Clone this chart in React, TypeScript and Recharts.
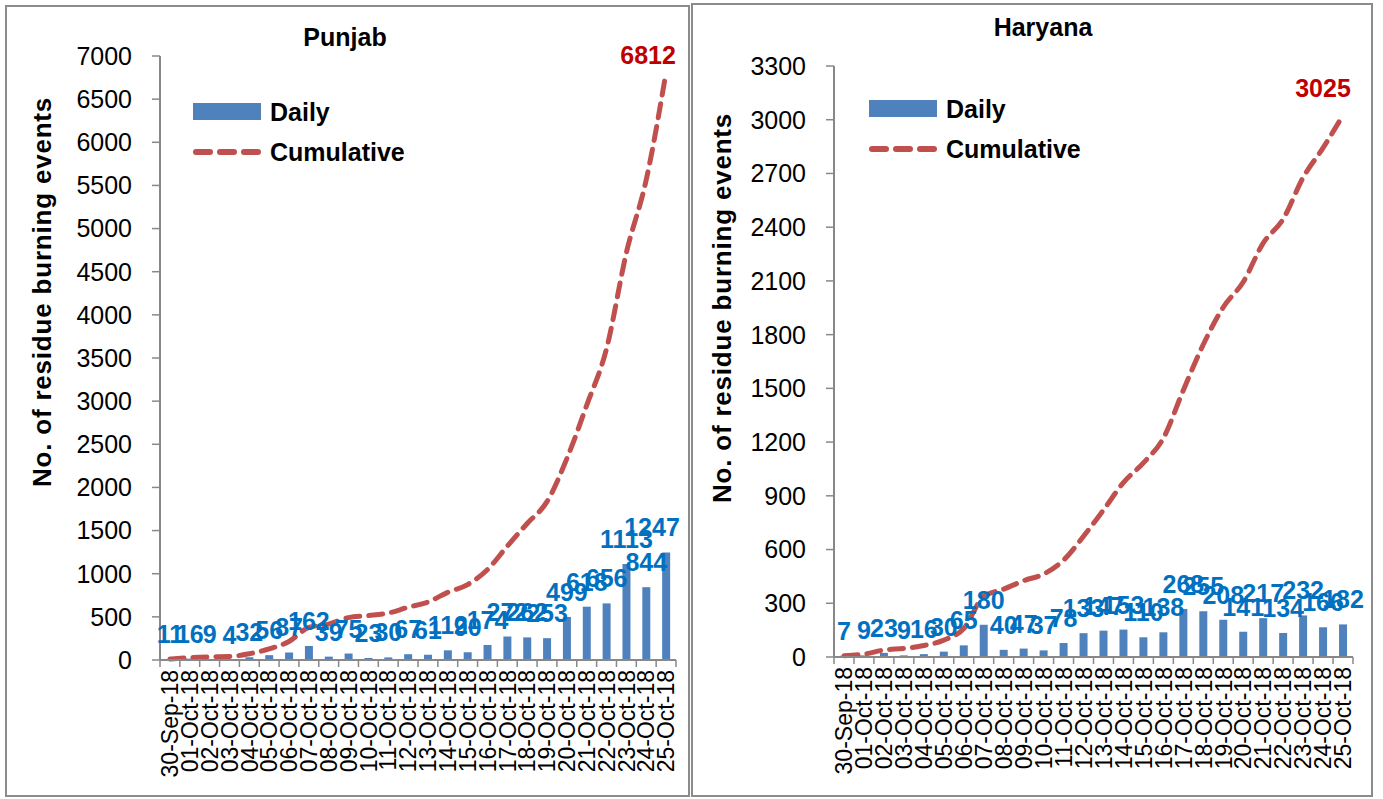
import { ComposedChart, Bar, Line, XAxis, YAxis, LabelList } from 'recharts'

const dates = [
  '30-Sep-18', '01-Oct-18', '02-Oct-18', '03-Oct-18', '04-Oct-18', '05-Oct-18', '06-Oct-18',
  '07-Oct-18', '08-Oct-18', '09-Oct-18', '10-Oct-18', '11-Oct-18', '12-Oct-18', '13-Oct-18',
  '14-Oct-18', '15-Oct-18', '16-Oct-18', '17-Oct-18', '18-Oct-18', '19-Oct-18', '20-Oct-18',
  '21-Oct-18', '22-Oct-18', '23-Oct-18', '24-Oct-18', '25-Oct-18',
]

const punjabDaily = [11, 16, 9, 4, 32, 56, 87, 162, 39, 75, 23, 30, 67, 61, 112, 90, 174, 272, 262, 253, 499, 618, 656, 1113, 844, 1247]
const punjabCumulative = [11, 27, 36, 40, 72, 128, 215, 377, 416, 491, 514, 544, 611, 672, 784, 874, 1048, 1320, 1582, 1835, 2334, 2952, 3608, 4721, 5565, 6812]

const haryanaDaily = [7, 9, 23, 9, 16, 30, 65, 180, 40, 47, 37, 78, 133, 147, 153, 110, 138, 268, 255, 208, 141, 217, 134, 232, 166, 182]
const haryanaCumulative = [7, 16, 39, 48, 64, 94, 159, 339, 379, 426, 463, 541, 674, 821, 974, 1084, 1222, 1490, 1745, 1953, 2094, 2311, 2445, 2677, 2843, 3025]

const punjabTicks = [0, 500, 1000, 1500, 2000, 2500, 3000, 3500, 4000, 4500, 5000, 5500, 6000, 6500, 7000]
const haryanaTicks = [0, 300, 600, 900, 1200, 1500, 1800, 2100, 2400, 2700, 3000, 3300]

const FONT = '"Liberation Sans", Arial, sans-serif'
const BAR = '#4F81BD'
const LINE = '#C0504D'
const LABEL_BLUE = '#0070C0'
const AXIS = '#888888'

function DateTick(props: any) {
  const { x, payload, index, band, axisY, last } = props
  const ty = axisY + 10
  return (
    <g>
      <line x1={x - band / 2} y1={axisY} x2={x - band / 2} y2={axisY + 7} stroke={AXIS} strokeWidth={1.5} />
      {index === last && (
        <line x1={x + band / 2} y1={axisY} x2={x + band / 2} y2={axisY + 7} stroke={AXIS} strokeWidth={1.5} />
      )}
      <text
        x={x}
        y={ty}
        transform={`rotate(-90, ${x}, ${ty})`}
        textAnchor="end"
        dy="0.36em"
        fontSize={23}
        fontFamily={FONT}
        fill="#000"
      >
        {payload.value}
      </text>
    </g>
  )
}

// value label above a bar, nudged left when it would run past the panel edge
function DailyLabel(props: any) {
  const { x, y, width, value, maxX } = props
  const cx = x + width / 2
  const half = (String(value).length * 14) / 2
  const shift = Math.min(0, maxX - (cx + half))
  return (
    <text
      x={cx + shift}
      y={y - 16}
      textAnchor="middle"
      fontSize={25}
      fontWeight="bold"
      fontFamily={FONT}
      fill={LABEL_BLUE}
    >
      {value}
    </text>
  )
}

function LegendBox() {
  return (
    <div style={{ fontFamily: FONT, fontWeight: 'bold', fontSize: 25, color: '#000' }}>
      <div style={{ display: 'flex', alignItems: 'center', height: 34 }}>
        <svg width={70} height={18}>
          <rect x={1} y={0} width={68} height={17} fill={BAR} />
        </svg>
        <span style={{ marginLeft: 8 }}>Daily</span>
      </div>
      <div style={{ display: 'flex', alignItems: 'center', height: 46 }}>
        <svg width={70} height={10}>
          <line x1={4} y1={5} x2={66} y2={5} stroke={LINE} strokeWidth={6} strokeDasharray="14 10" strokeLinecap="round" />
        </svg>
        <span style={{ marginLeft: 8 }}>Cumulative</span>
      </div>
    </div>
  )
}

interface PanelProps {
  title: string
  daily: number[]
  cumulative: number[]
  ticks: number[]
  left: number
  width: number
  top: number
  right: number
  xAxisHeight: number
  axisWidth: number
  titleX: number
  titleY: number
  legendX: number
  legendY: number
  yTitleX: number
  yTitleY: number
  endDx: number
  endDy: number
}

function Panel(p: PanelProps) {
  const height = 799
  const data = dates.map((d, i) => ({ date: d, daily: p.daily[i], cumulative: p.cumulative[i] }))
  const plotW = p.width - p.right - p.axisWidth
  const band = plotW / dates.length
  const axisY = height - p.xAxisHeight
  const last = dates.length - 1

  return (
    <div style={{ position: 'absolute', left: p.left, top: 0, width: p.width, height }}>
      <ComposedChart width={p.width} height={height} data={data} margin={{ top: p.top, right: p.right, bottom: 0, left: 0 }}>
        <XAxis
          dataKey="date"
          interval={0}
          height={p.xAxisHeight}
          axisLine={{ stroke: AXIS, strokeWidth: 2 }}
          tickLine={false}
          tick={<DateTick band={band} axisY={axisY} last={last} />}
        />
        <YAxis
          width={p.axisWidth}
          domain={[p.ticks[0], p.ticks[p.ticks.length - 1]]}
          ticks={p.ticks}
          interval={0}
          axisLine={{ stroke: AXIS, strokeWidth: 2 }}
          tickLine={{ stroke: AXIS, strokeWidth: 1.5 }}
          tickSize={8}
          tickMargin={20}
          tick={{ fontSize: 25, fontFamily: FONT, fill: '#000' }}
          label={{
            content: () => (
              <text
                x={p.yTitleX}
                y={p.yTitleY}
                transform={`rotate(-90, ${p.yTitleX}, ${p.yTitleY})`}
                textAnchor="middle"
                dominantBaseline="central"
                fontSize={26}
                fontWeight="bold"
                fontFamily={FONT}
                letterSpacing={0.8}
                fill="#000"
              >
                No. of residue burning events
              </text>
            ),
          }}
        />
        <Bar dataKey="daily" fill={BAR} barSize={8} isAnimationActive={false}>
          <LabelList dataKey="daily" content={<DailyLabel maxX={p.width - 10} />} />
        </Bar>
        <Line
          type="monotone"
          dataKey="cumulative"
          stroke={LINE}
          strokeWidth={5}
          strokeDasharray="14 9"
          strokeLinecap="round"
          dot={false}
          isAnimationActive={false}
        >
          <LabelList
            dataKey="cumulative"
            content={(lp: any) =>
              lp.index === last ? (
                <text
                  x={lp.x + p.endDx}
                  y={lp.y + p.endDy}
                  textAnchor="middle"
                  fontSize={25}
                  fontWeight="bold"
                  fontFamily={FONT}
                  fill="#C00000"
                >
                  {lp.value}
                </text>
              ) : null
            }
          />
        </Line>
      </ComposedChart>
      <div
        style={{
          position: 'absolute',
          left: p.titleX,
          top: p.titleY,
          transform: 'translate(-50%, -50%)',
          fontFamily: FONT,
          fontWeight: 'bold',
          fontSize: 25,
          color: '#000',
          whiteSpace: 'nowrap',
        }}
      >
        {p.title}
      </div>
      <div style={{ position: 'absolute', left: p.legendX, top: p.legendY }}>
        <LegendBox />
      </div>
    </div>
  )
}

export default function App() {
  return (
    <div style={{ position: 'absolute', left: 0, top: 0, width: 1383, height: 799, background: '#fff', overflow: 'hidden' }}>
      <div style={{ position: 'absolute', left: 5, top: 5, width: 685, height: 792, border: '2px solid #8c8c8c', boxSizing: 'border-box' }} />
      <div style={{ position: 'absolute', left: 691, top: 3, width: 682, height: 794, border: '2px solid #8c8c8c', boxSizing: 'border-box' }} />
      <Panel
        title="Punjab"
        daily={punjabDaily}
        cumulative={punjabCumulative}
        ticks={punjabTicks}
        left={0}
        width={690}
        top={56}
        right={14}
        xAxisHeight={139}
        axisWidth={160}
        titleX={345}
        titleY={37}
        legendX={192}
        legendY={95}
        yTitleX={42}
        yTitleY={292}
        endDx={-18}
        endDy={-8}
      />
      <Panel
        title="Haryana"
        daily={haryanaDaily}
        cumulative={haryanaCumulative}
        ticks={haryanaTicks}
        left={692}
        width={691}
        top={66}
        right={30}
        xAxisHeight={142}
        axisWidth={142}
        titleX={351}
        titleY={27}
        legendX={176}
        legendY={92}
        yTitleX={30}
        yTitleY={308}
        endDx={-20}
        endDy={-18}
      />
    </div>
  )
}
